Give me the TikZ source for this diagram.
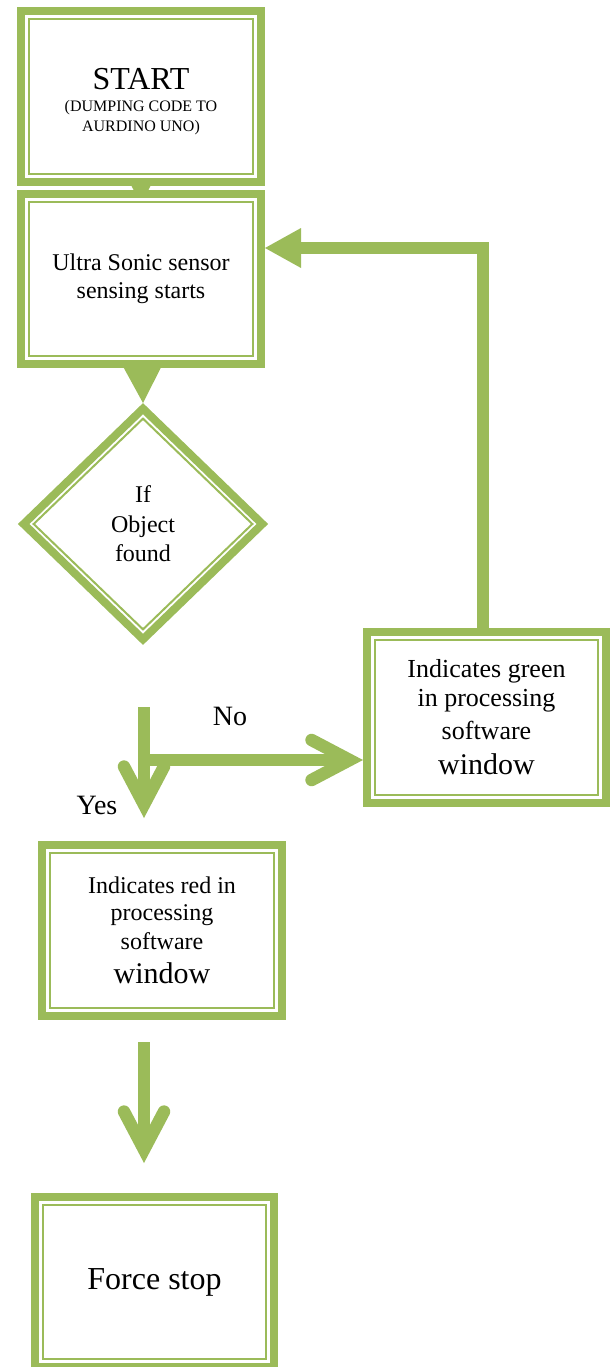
\documentclass[tikz,border=0pt]{standalone}
\usepackage{fontspec}
\setmainfont{Liberation Serif}
\usepackage{tikz}
\usetikzlibrary{shapes.geometric, arrows.meta, positioning}
\definecolor{olivegreen}{RGB}{155, 187, 89}
\pgfdeclarelayer{bg}
\pgfsetlayers{bg,main}

\newcommand{\fsz}[2]{\fontsize{#1}{#2}\selectfont}

\begin{document}
\begin{tikzpicture}[
    x=1pt, y=-1pt,
    frame/.style={draw=olivegreen, line width=8pt, fill=white,
      align=center, minimum width=240pt, minimum height=171pt,
      path picture={\draw[olivegreen, line width=2pt]
        ([shift={(7.8pt,-7.8pt)}]path picture bounding box.north west) rectangle
        ([shift={(-7.8pt,7.8pt)}]path picture bounding box.south east);}},
    choice/.style={shape=diamond, draw=olivegreen, line width=8pt, fill=white,
      align=center, minimum width=242pt, minimum height=234pt,
      path picture={\draw[olivegreen, line width=2pt]
        ([yshift=-10pt]path picture bounding box.north) --
        ([xshift=-10pt]path picture bounding box.east) --
        ([yshift=10pt]path picture bounding box.south) --
        ([xshift=10pt]path picture bounding box.west) -- cycle;}},
    varr/.style={draw=olivegreen, line width=12.5pt,
      -{Straight Barb[length=38pt, width=40pt, line cap=round, line join=miter]}},
    back/.style={draw=olivegreen, line width=12pt,
      -{Triangle[length=36pt, width=40pt, line width=0pt]}},
    lbl/.style={font=\fsz{28}{32}}
  ]
    \useasboundingbox (0,0) rectangle (614,1367);

    \node[frame, font=\fsz{16}{20}] (start) at (141,96.5)
      {{\fsz{32}{36}\rule{0pt}{31pt}START}\\[2pt](DUMPING CODE TO\\AURDINO UNO)};
    \node[frame, font=\fsz{24}{28}, minimum height=170pt,
          below=4pt of start] (sensor) {Ultra Sonic sensor\\sensing starts};
    \node[choice, font=\fsz{24}{29.5}, below=35pt of sensor, xshift=2pt]
      (dec) {If\\Object\\found};
    \node[frame, font=\fsz{26}{29}, minimum width=239pt] (green) at (486.5,717.5)
      {Indicates green\\in processing\\[4pt]software\\[6pt]{\fsz{30}{34}window}};
    \node[frame, font=\fsz{24}{26.5}] (red) at (162,930.5)
      {Indicates red in\\processing\\[2.5pt]software\\[8pt]{\fsz{30}{34}window}};
    \node[frame, font=\fsz{32}{36}, minimum width=239pt, minimum height=170pt]
      (stop) at (154.5,1282) {Force stop};

    \node[lbl] (no) at (230,716) {No};
    \node[lbl] (yes) at (97,805) {Yes};

    \coordinate (fork) at (144,707);
    \coordinate (branch) at (144,760);

    \begin{pgfonlayer}{bg}
      \draw[varr] (start.center) -- ([yshift=-14pt]sensor.north);
      \draw[varr] (sensor.center) -- (dec.north);
    \end{pgfonlayer}

    \draw[varr, shorten >=23pt] (fork) -- (fork |- red.north);
    \draw[varr] (branch) -- (branch -| green.west);
    \draw[varr, shorten <=22pt, shorten >=30pt] (fork |- red.south) -- (fork |- stop.north);
    \draw[back] ([xshift=-4pt]green.north) |- ([yshift=31pt]sensor.east);
\end{tikzpicture}
\end{document}
